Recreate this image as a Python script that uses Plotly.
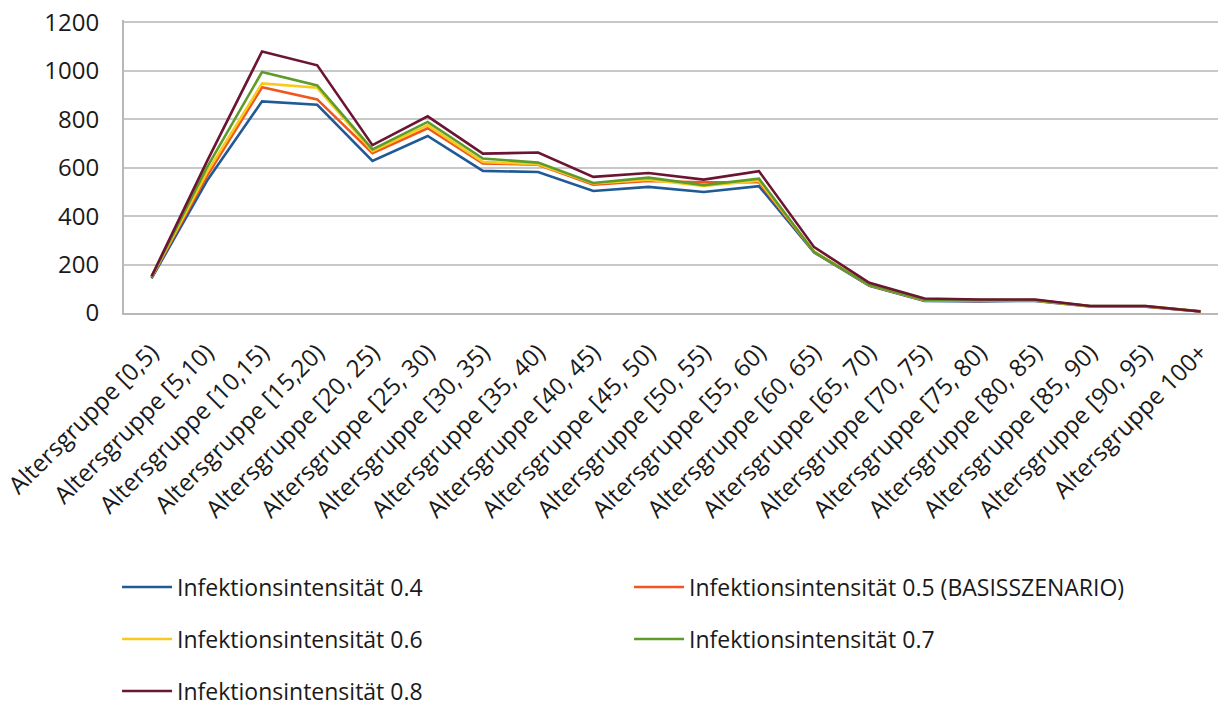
import plotly.graph_objects as go

categories = ["Altersgruppe [0,5)", "Altersgruppe [5,10)", "Altersgruppe [10,15)", "Altersgruppe [15,20)",
              "Altersgruppe [20, 25)", "Altersgruppe [25, 30)", "Altersgruppe [30, 35)", "Altersgruppe [35, 40)",
              "Altersgruppe [40, 45)", "Altersgruppe [45, 50)", "Altersgruppe [50, 55)", "Altersgruppe [55, 60)",
              "Altersgruppe [60, 65)", "Altersgruppe [65, 70)", "Altersgruppe [70, 75)", "Altersgruppe [75, 80)",
              "Altersgruppe [80, 85)", "Altersgruppe [85, 90)", "Altersgruppe [90, 95)", "Altersgruppe 100+"]

s04 = [143, 545, 874, 860, 628, 731, 587, 582, 504, 521, 500, 524, 250, 112, 50, 48, 50, 27, 26, 6]
s05 = [148, 565, 932, 882, 660, 763, 618, 612, 530, 545, 540, 540, 252, 114, 52, 50, 52, 28, 27, 6]
s06 = [149, 580, 948, 930, 668, 775, 624, 614, 535, 550, 525, 546, 254, 115, 53, 51, 52, 28, 28, 7]
s07 = [150, 600, 995, 940, 676, 789, 638, 621, 537, 559, 528, 555, 252, 115, 54, 52, 53, 29, 29, 7]
s08 = [152, 625, 1080, 1023, 693, 812, 658, 663, 562, 578, 551, 586, 272, 125, 60, 56, 56, 29, 29, 6]

names = ["Infektionsintensität 0.4", "Infektionsintensität 0.5 (BASISSZENARIO)",
         "Infektionsintensität 0.6", "Infektionsintensität 0.7", "Infektionsintensität 0.8"]
colors = ["#1F5A96", "#F0561E", "#F7CB1D", "#5E9C2A", "#6B1532"]
legends = ["legend", "legend", "legend2", "legend2", "legend3"]
series = [s04, s05, s06, s07, s08]

FONT = "Open Sans"
fig = go.Figure()
for name, vals, col, lg in zip(names, series, colors, legends):
    fig.add_trace(go.Scatter(x=categories, y=vals, mode="lines", name=name,
                             line=dict(color=col, width=2.6), legend=lg))

PH = 293  # plot height in px
leg_common = dict(orientation="h", xanchor="left", yanchor="middle", x=-0.0063,
                  font=dict(family=FONT, size=23, color="#1a1a1a"),
                  entrywidth=447, entrywidthmode="pixels", bgcolor="rgba(0,0,0,0)",
                  itemwidth=50, traceorder="normal")

# page body adds an 8px offset; margins compensate for it
fig.update_layout(
    width=1226, height=705,
    margin=dict(l=116, r=8, t=12, b=400, autoexpand=False),
    paper_bgcolor="white", plot_bgcolor="white",
    font=dict(family=FONT, size=20, color="#1a1a1a"),
    legend=dict(leg_common, y=(313 - 587) / PH),
    legend2=dict(leg_common, y=(313 - 639) / PH),
    legend3=dict(leg_common, y=(313 - 691) / PH),
    xaxis=dict(type="category", range=[-0.5, 19.46], tickangle=-45, automargin=False,
               showgrid=False, showline=True, linecolor="#B8B8B8", linewidth=2,
               ticks="", ticklabelstandoff=14, ticklabeloverflow="allow",
               tickfont=dict(family=FONT, size=24, color="#1a1a1a")),
    yaxis=dict(range=[0, 1210], tickvals=[0, 200, 400, 600, 800, 1000, 1200], automargin=False,
               showgrid=True, gridcolor="#C8C8C8", gridwidth=1.5,
               showline=True, linecolor="#B8B8B8", linewidth=2, zeroline=False,
               ticks="", ticklabelstandoff=18, ticklabeloverflow="allow",
               tickfont=dict(family=FONT, size=24, color="#1a1a1a")),
)

fig.write_html("out.html")
